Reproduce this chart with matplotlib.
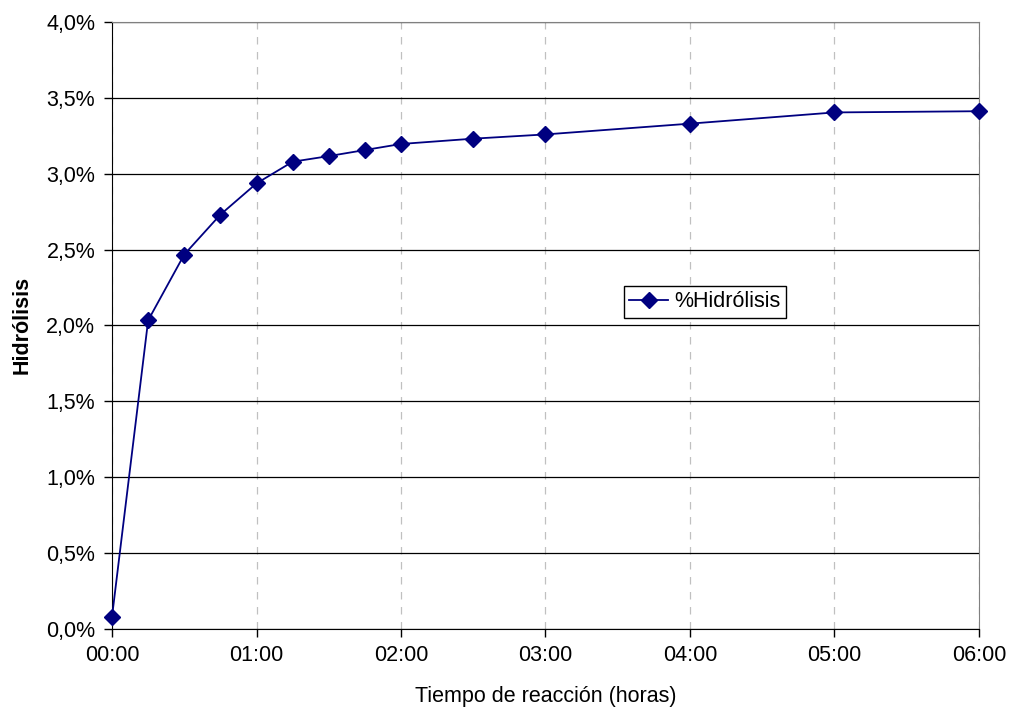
import matplotlib
matplotlib.use("Agg")
import matplotlib.pyplot as plt
from matplotlib.ticker import FuncFormatter, MultipleLocator

# Reaction time (hh:mm) and degree of hydrolysis (%)
tiempos = ["00:00", "00:15", "00:30", "00:45", "01:00", "01:15", "01:30",
           "01:45", "02:00", "02:30", "03:00", "04:00", "05:00", "06:00"]
hidrolisis = [0.079, 2.033, 2.467, 2.730, 2.936, 3.079, 3.116,
              3.156, 3.196, 3.231, 3.259, 3.330, 3.404, 3.412]
x_ticks = ["00:00", "01:00", "02:00", "03:00", "04:00", "05:00", "06:00"]


def to_hours(t):
    h, m = t.split(":")
    return int(h) + int(m) / 60.0


horas = [to_hours(t) for t in tiempos]

plt.rcParams["font.family"] = ["Liberation Sans", "DejaVu Sans"]
plt.rcParams["font.size"] = 15.5

fig = plt.figure(figsize=(10.11, 7.11), dpi=100)
ax = fig.add_axes([0.1108, 0.1158, 0.9683 - 0.1108, 0.969 - 0.1158])

ax.plot(horas, hidrolisis, color="#000080", linewidth=1.3,
        marker="D", markersize=8, markerfacecolor="#000080",
        markeredgecolor="#000080", label="%Hidrólisis", clip_on=False, zorder=3)

ax.set_xlim(0, 6)
ax.set_ylim(0, 4.0)
ax.set_xticks([to_hours(t) for t in x_ticks])
ax.set_xticklabels(x_ticks)
ax.yaxis.set_major_locator(MultipleLocator(0.5))
ax.yaxis.set_major_formatter(FuncFormatter(lambda v, p: ("%.1f%%" % v).replace(".", ",")))

ax.grid(axis="y", color="black", linewidth=0.9, linestyle="-")
ax.grid(axis="x", color="#c0c0c0", linewidth=0.9, linestyle=(0, (6, 6)))
ax.set_axisbelow(True)

for side in ["top", "right"]:
    ax.spines[side].set_color("#808080")
for side in ["left", "bottom"]:
    ax.spines[side].set_color("black")
ax.tick_params(direction="out", length=6, width=1, colors="black", pad=6)

ax.set_xlabel("Tiempo de reacción (horas)", labelpad=14)
ax.set_ylabel("Hidrólisis", fontweight="bold", labelpad=10)

leg = ax.legend(loc="center", bbox_to_anchor=(0.684, 0.5385), frameon=True,
                fancybox=False, edgecolor="black", framealpha=1,
                borderpad=0.25, handlelength=1.8, handletextpad=0.3)
leg.get_frame().set_linewidth(1.0)

fig.savefig("out.png", dpi=100)
